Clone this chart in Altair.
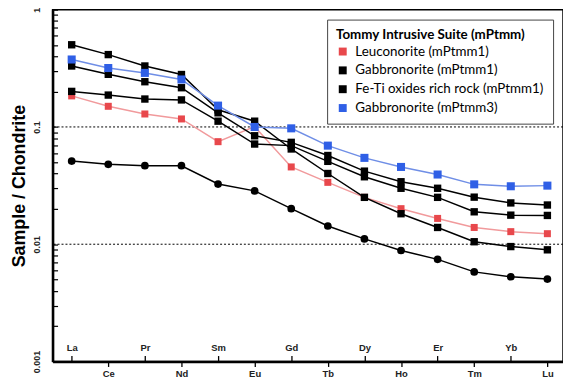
import altair as alt
import pandas as pd

elements = ["La", "Ce", "Pr", "Nd", "Sm", "Eu", "Gd", "Tb", "Dy", "Ho", "Er", "Tm", "Yb", "Lu"]
inner_labels = ["La", "Pr", "Sm", "Gd", "Dy", "Er", "Yb"]

groups = [
    "Leuconorite (mPtmm1)",
    "Gabbronorite (mPtmm1)",
    "Fe-Ti oxides rich rock (mPtmm1)",
    "Gabbronorite (mPtmm3)",
]

leuconorite_1 = [0.184, 0.150, 0.129, 0.117, 0.0749, 0.1006, 0.0456, 0.0337, 0.0251, 0.0201, 0.0166, 0.0139, 0.0128, 0.0123]
gabbronorite_1a = [0.502, 0.414, 0.331, 0.280, 0.140, 0.112, 0.0649, 0.0401, 0.0251, 0.0182, 0.0139, 0.0105, 0.00955, 0.00896]
gabbronorite_1b = [0.331, 0.281, 0.243, 0.216, 0.132, 0.0841, 0.0739, 0.0571, 0.0420, 0.0341, 0.0300, 0.0252, 0.0225, 0.0216]
gabbronorite_1c = [0.201, 0.187, 0.173, 0.170, 0.112, 0.0715, 0.0693, 0.0509, 0.0376, 0.0300, 0.0251, 0.0189, 0.0177, 0.0176]
feti_1 = [0.0512, 0.0480, 0.0467, 0.0467, 0.0326, 0.0285, 0.0201, 0.0143, 0.0111, 0.00884, 0.00743, 0.00581, 0.00528, 0.00505]
gabbronorite_3 = [0.376, 0.318, 0.289, 0.254, 0.152, 0.100, 0.0973, 0.0693, 0.0545, 0.0456, 0.0393, 0.0324, 0.0312, 0.0316]

grid_values = [0.1, 0.01]
y_ticks = [float(f"{k * 10.0 ** e:.4g}") for e in (-3, -2, -1) for k in range(1, 10)] + [1.0]
decades = [0.001, 0.01, 0.1, 1.0]

series = [
    ("L1", groups[0], leuconorite_1),
    ("G1a", groups[1], gabbronorite_1a),
    ("G1b", groups[1], gabbronorite_1b),
    ("G1c", groups[1], gabbronorite_1c),
    ("F1", groups[2], feti_1),
    ("G3", groups[3], gabbronorite_3),
]

rows = []
for sid, grp, vals in series:
    for i, (el, v) in enumerate(zip(elements, vals)):
        rows.append({"sample": sid, "group": grp, "element": el, "idx": i, "value": v})
df = pd.DataFrame(rows)
grid_df = pd.DataFrame({"value": grid_values})

point_colors = ["#e8484c", "#000000", "#000000", "#2f5fe6"]
line_colors = ["#f19a9c", "#000000", "#000000", "#6f8ee6"]
shapes = ["square", "square", "circle", "square"]
sizes = [50, 66, 36, 50]

inner_test = f"indexof({inner_labels}, datum.value) >= 0"

x_axis = alt.Axis(
    title=None,
    labelAngle=0,
    labelFont="Liberation Sans",
    labelFontSize=9.5,
    labelFontWeight="bold",
    labelColor="#222222",
    domainColor="black",
    domainWidth=2.5,
    tickColor="black",
    tickWidth=1.3,
    tickSize={"condition": {"test": inner_test, "value": -6}, "value": 5},
    labelPadding={"condition": {"test": inner_test, "value": -13}, "value": 2},
    labelOverlap=False,
)

y_axis = alt.Axis(
    title="Sample / Chondrite",
    titleFont="Liberation Sans",
    titleFontSize=18,
    titleFontWeight="bold",
    titleColor="black",
    titlePadding=4,
    values=y_ticks,
    format="~g",
    labelExpr=f"indexof({decades}, datum.value) >= 0 ? datum.label : ''",
    labelAngle=270,
    labelFont="Liberation Sans",
    labelFontSize=9,
    labelFontWeight="bold",
    labelColor="#222222",
    labelOverlap=False,
    labelPadding=16,
    domainColor="black",
    domainWidth=2.5,
    tickColor="black",
    tickWidth=1.2,
    tickSize={"condition": {"test": "datum.value > 0", "value": -5}, "value": -5},
    grid=False,
)

y_scale = alt.Scale(type="log", domain=[0.001, 1])
x_scale = alt.Scale(type="point", padding=0.474, align=0.55)

legend = alt.Legend(
    title="Tommy Intrusive Suite (mPtmm)",
    orient="none",
    legendX=277,
    legendY=10,
    fillColor="white",
    strokeColor="#444",
    padding=9,
    titleFont="Lato",
    titleFontSize=13.5,
    titleFontWeight="bold",
    titleColor="black",
    titlePadding=3,
    titleLimit=400,
    labelFont="Lato",
    labelFontSize=13.5,
    labelColor="black",
    labelOffset=6,
    symbolType="square",
    symbolSize=64,
    symbolStrokeWidth=0,
    rowPadding=4,
    labelLimit=400,
)

grid = alt.Chart(grid_df).mark_rule(color="black", strokeDash=[2, 2], strokeWidth=1).encode(
    y=alt.Y("value:Q", scale=y_scale, axis=y_axis)
)

lines = alt.Chart(df).mark_line(strokeWidth=1.5).encode(
    x=alt.X("element:N", sort=elements, scale=x_scale, axis=x_axis),
    y=alt.Y("value:Q", scale=y_scale, axis=y_axis),
    detail="sample:N",
    order="idx:Q",
    color=alt.Color("group:N", scale=alt.Scale(domain=groups, range=line_colors), legend=None),
)

points = alt.Chart(df).mark_point(filled=True, opacity=1).encode(
    x=alt.X("element:N", sort=elements, scale=x_scale, axis=x_axis),
    y=alt.Y("value:Q", scale=y_scale, axis=y_axis),
    detail="sample:N",
    color=alt.Color("group:N", scale=alt.Scale(domain=groups, range=point_colors), legend=legend),
    shape=alt.Shape("group:N", scale=alt.Scale(domain=groups, range=shapes), legend=None),
    size=alt.Size("group:N", scale=alt.Scale(domain=groups, range=sizes), legend=None),
)

chart = (
    alt.layer(grid, lines, points)
    .resolve_scale(color="independent")
    .properties(
        width=515,
        height=355,
        autosize="none",
        padding={"left": 45, "top": 0, "right": 0, "bottom": 20},
    )
    .configure_view(stroke="black", strokeWidth=1.5)
)

chart.save("out.html", embed_options={"renderer": "svg", "actions": False})
